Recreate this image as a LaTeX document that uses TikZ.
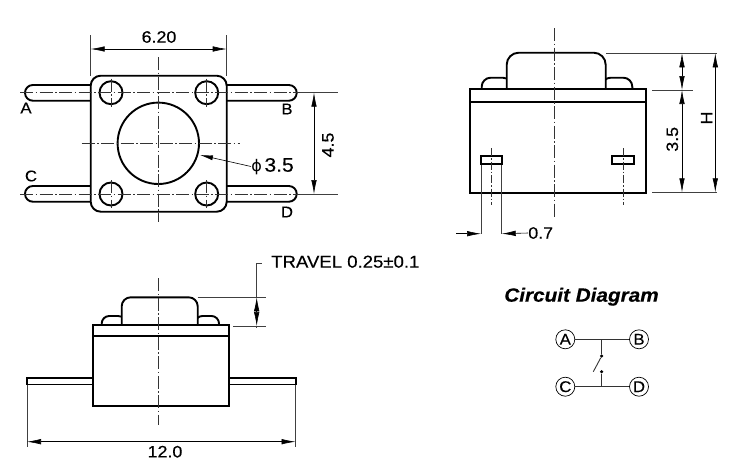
\documentclass[tikz,border=0pt]{standalone}
\usepackage{fontspec}
\setmainfont[FakeStretch=1.08,FakeBold=0.35]{Liberation Sans}
\newfontfamily\symfont{DejaVu Sans}
\usetikzlibrary{arrows.meta}
\tikzset{
  outline/.style={line width=1.9pt,black},
  bodyline/.style={outline,fill=white},
  thinline/.style={line width=0.6pt,black!75},
  centerline/.style={line width=0.5pt,black!80,dash pattern=on 13pt off 2.5pt on 1.5pt off 2.5pt},
  dimarrow/.style={line width=0.6pt,black,{Latex[length=14pt,width=5.5pt]}-{Latex[length=14pt,width=5.5pt]}},
  dimtext/.style={font=\fontsize{16.5}{16.5}\selectfont,inner sep=0pt},
  pinlabel/.style={font=\fontsize{15.5}{15.5}\selectfont,inner sep=0pt},
  terminal/.style={circle,draw,line width=0.7pt,minimum size=19pt,inner sep=0pt,font=\fontsize{15.5}{15.5}\selectfont},
  wire/.style={line width=0.9pt,black!80},
  contact/.style={circle,fill=black,minimum size=3.5pt,inner sep=0pt}
}
\begin{document}
\begin{tikzpicture}[x=1pt,y=-1pt]
  \path [fill=white] (0,0) rectangle (731,475);
  % top view
  \foreach \py in {85,186} {
    \draw [outline,rounded corners=7.8pt] (100,\py) -- (25,\py) -- (25,\py+15.7) -- (100,\py+15.7);
    \draw [outline,rounded corners=7.8pt] (220,\py) -- (296.7,\py) -- (296.7,\py+15.7) -- (220,\py+15.7);
  }
  \draw [bodyline,rounded corners=10pt] (90.7,75.7) rectangle (226.7,211.7);
  \draw [outline] (158.3,143.3) circle [radius=40.7];
  \foreach \cx in {111,206.7} \foreach \cy in {92.7,194}
    \draw [outline] (\cx,\cy) circle [radius=11.5];
  \foreach \cx in {111,206.7} \foreach \cy in {92.7,194}
    \draw [centerline] (\cx,\cy-14) -- (\cx,\cy+14);
  \draw [centerline] (158.3,57) -- (158.3,221.7);
  \draw [centerline] (81.7,143.3) -- (240,143.3);
  \draw [centerline] (20,92.7) -- (300,92.7);
  \draw [centerline] (20,194) -- (300,194);
  \draw [thinline] (300,92.7) -- (338,92.7);
  \draw [thinline] (300,194) -- (338,194);
  \draw [thinline] (90.7,35) -- (90.7,76);
  \draw [thinline] (226.7,35) -- (226.7,76);
  \coordinate (wl) at (90.7,49);
  \coordinate (wr) at (226.7,49);
  \draw [dimarrow] (wl) -- (wr);
  \node [dimtext] (widthtext) at (159,37) {6.20};
  \coordinate (pt) at (314,92.7);
  \coordinate (pb) at (314,194);
  \draw [dimarrow] (pt) -- (pb);
  \node [dimtext,rotate=90] (pitchtext) at (328,145) {4.5};
  \coordinate (ringtip) at (200,155);
  \node [inner sep=0pt] (phitext) at (272.5,166.5) {\symfont\fontsize{16}{16}\selectfont ϕ\,\rmfamily\fontsize{19.5}{19.5}\selectfont 3.5};
  \draw [line width=0.6pt,{Latex[length=13pt,width=5pt]}-] (ringtip) -- (phitext.west);
  \node [pinlabel] (pina) at (26,108) {A};
  \node [pinlabel] (pinb) at (287,109) {B};
  \node [pinlabel] (pinc) at (31,176) {C};
  \node [pinlabel] (pind) at (287,212) {D};
  % side view
  \draw [outline,rounded corners=9pt] (481.7,89.3) -- (481.7,77.7) -- (511.7,77.7) -- (511.7,89.3);
  \draw [outline,rounded corners=9pt] (601.7,89.3) -- (601.7,77.7) -- (632.3,77.7) -- (632.3,89.3);
  \draw [bodyline,rounded corners=12pt] (506.7,89.3) -- (506.7,52.7) -- (605.7,52.7) -- (605.7,89.3);
  \draw [outline] (470,89.3) rectangle (645.7,193.3);
  \draw [outline] (470,102) -- (645.7,102);
  \draw [outline] (480.7,156.3) rectangle (502.3,164.3);
  \draw [outline] (612.3,156.3) rectangle (634.3,164.3);
  \draw [centerline] (554.3,28) -- (554.3,218);
  \draw [centerline,dash pattern=on 8pt off 2pt on 1.5pt off 2pt] (491.3,148) -- (491.3,205);
  \draw [centerline,dash pattern=on 8pt off 2pt on 1.5pt off 2pt] (623,148) -- (623,205);
  \draw [thinline] (606,53.3) -- (716.7,53.3);
  \draw [thinline] (652,90) -- (693,90);
  \draw [thinline] (652,192.3) -- (717,192.3);
  \draw [dimarrow] (682,53.3) -- (682,90);
  \draw [dimarrow] (682,90) -- (682,192.3);
  \draw [dimarrow] (715.3,53.3) -- (715.3,192.3);
  \node [dimtext,rotate=90] (bodytext) at (672.3,139.3) {3.5};
  \node [dimtext,rotate=90] (heighttext) at (706.7,118) {H};
  \draw [thinline] (481,165) -- (481,234);
  \draw [thinline] (501.7,165) -- (501.7,234);
  \node [dimtext] (slottext) at (540.7,233) {0.7};
  \coordinate (sl) at (456,233.7);
  \coordinate (sla) at (481,233.7);
  \coordinate (sr) at (501.7,233.7);
  \draw [line width=0.6pt,-{Latex[length=14pt,width=5.5pt]}] (sl) -- (sla);
  \draw [line width=0.6pt,-{Latex[length=14pt,width=5.5pt]}] (slottext.west) -- (sr);
  % front view
  \draw [outline,line width=1.6pt] (26.7,377.7) rectangle (92.7,384.3);
  \draw [outline,line width=1.6pt] (229,377.7) rectangle (295.7,384.3);
  \draw [outline,rounded corners=7.5pt] (101.7,325) -- (101.7,316) -- (125.7,316) -- (125.7,325);
  \draw [outline,rounded corners=7.5pt] (195,325) -- (195,316) -- (219,316) -- (219,325);
  \draw [bodyline,rounded corners=9pt] (121.7,325) -- (121.7,297.3) -- (197.7,297.3) -- (197.7,325);
  \draw [outline] (92.7,325) rectangle (229,406);
  \draw [outline] (92.7,335.7) -- (229,335.7);
  \draw [centerline] (158.3,278.3) -- (158.3,425);
  \draw [thinline] (197.7,297.3) -- (265.7,297.3);
  \draw [thinline] (233,326) -- (265.7,326);
  \draw [thinline] (261.7,263.3) -- (256.7,263.3) -- (256.7,297.3);
  \draw [line width=0.6pt,{Latex[length=14pt,width=5.5pt]}-{Latex[length=14pt,width=5.5pt]}] (256.7,297.3) -- (256.7,326);
  \draw [thinline] (256.7,326) -- (256.7,328);
  \node [dimtext,anchor=west,font=\fontsize{17.2}{17.2}\selectfont] (traveltext) at (271,261.7) {TRAVEL 0.25±0.1};
  \draw [thinline] (27,385) -- (27,447);
  \draw [thinline] (295.5,385) -- (295.5,447);
  \coordinate (ll) at (27,441.7);
  \coordinate (lr) at (295.5,441.7);
  \draw [dimarrow] (ll) -- (lr);
  \node [dimtext] (lengthtext) at (165,451.7) {12.0};
  % circuit
  \node [inner sep=0pt,font=\fontsize{19.2}{19.2}\selectfont\bfseries\itshape] (circtitle) at (581.5,296.7) {Circuit Diagram};
  \node [terminal] (a) at (565.3,339.3) {A};
  \node [terminal] (b) at (639,339.3) {B};
  \node [terminal] (c) at (565.3,386.7) {C};
  \node [terminal] (d) at (639,386.7) {D};
  \draw [wire] (a) -- (b);
  \draw [wire] (c) -- (d);
  \node [contact] (upper) at (601.7,356) {};
  \node [contact] (lower) at (601.7,371.7) {};
  \coordinate (armend) at (593.3,371.7);
  \draw [wire] (upper) -- (upper |- a);
  \draw [wire] (lower) -- (lower |- c);
  \draw [wire] (upper) -- (armend);
\end{tikzpicture}
\end{document}
